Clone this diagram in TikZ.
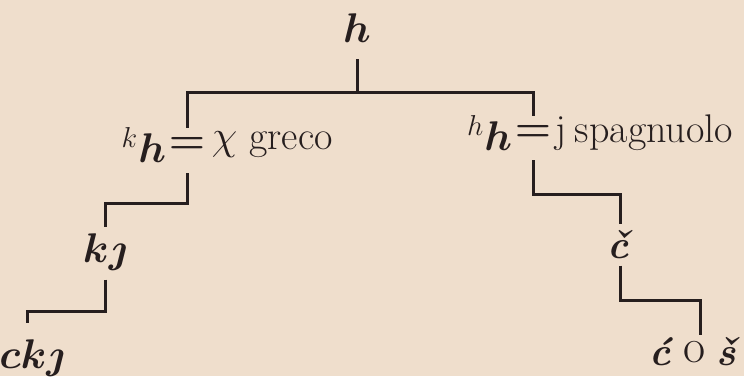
\documentclass[tikz,border=0pt]{standalone}
\usepackage{amsmath}
\usepackage{amssymb}
\usepackage{xcolor}
\usepackage{tikz}
\usetikzlibrary{positioning}
\definecolor{paper}{RGB}{239,222,204}
\definecolor{ink}{RGB}{38,30,30}

\begin{document}
\begin{tikzpicture}[x=0.5pt, y=-0.5pt, font=\fontsize{20}{24}\selectfont, text=ink,
    rule/.style={line width=1.5pt, draw=ink},
    eq/.style={inner sep=0pt, minimum height=17pt},
    leaf/.style={inner sep=1pt}]
  \fill[paper] (0,0) rectangle (744,376);
  \useasboundingbox (0,0) rectangle (744,376);

  \node (root) at (357,28) {$\boldsymbol{h}$};

  \node[eq] (gk) at (187,145) {$\boldsymbol{=}$};
  \node[anchor=east, inner sep=1pt] (gkl) at (gk.west) {${}^{k}\boldsymbol{h}$};
  \node[anchor=west, inner sep=3pt] (gkr) at (gk.east) {$\chi$\ greco};

  \node[eq] (sp) at (533,133) {$\boldsymbol{=}$};
  \node[anchor=east, inner sep=1pt] (spl) at (sp.west) {${}^{h}\boldsymbol{h}$};
  \node[anchor=west, inner sep=2pt] (spr) at (sp.east) {j\hspace{4pt}spagnuolo};

  \node (kj) at (105,252) {$\boldsymbol{k\jmath}$};
  \node (ckj) at (32,358) {$\boldsymbol{ck\jmath}$};
  \node[leaf] (cc) at (620,245) {\textbf{\textit{č}}};
  \node[leaf] (ca) at (661,352) {\textbf{\textit{ć}}};
  \node[leaf] (oo) at (695,352) {\fontsize{24}{24}\selectfont o};
  \node[leaf] (sc) at (728,352) {\textbf{\textit{š}}};

  \coordinate (b0) at (0,92);
  \coordinate (b1) at (0,203);
  \coordinate (b2) at (0,311);
  \coordinate (b3) at (0,194);
  \coordinate (b4) at (0,300);

  \draw[rule, shorten <=5pt] (root.south) -- (root |- b0);
  \draw[rule] (gk.north) -- (gk.north |- b0) -- (sp.north |- b0) -- (sp.north);
  \draw[rule, shorten <=5.5pt] (gk.south) -- (gk.south |- b1) -| (kj.north);
  \draw[rule, shorten <=1pt, shorten >=5pt] (kj.south) -- (kj.south |- b2) -| ([xshift=-2.5pt]ckj.north);
  \draw[rule, shorten <=5pt, shorten >=2pt] (sp.south) -- (sp.south |- b3) -| (cc.north);
  \draw[rule, shorten <=2pt, shorten >=2pt] (cc.south) -- (cc.south |- b4) -| ([xshift=2.5pt]oo.north);
\end{tikzpicture}
\end{document}
